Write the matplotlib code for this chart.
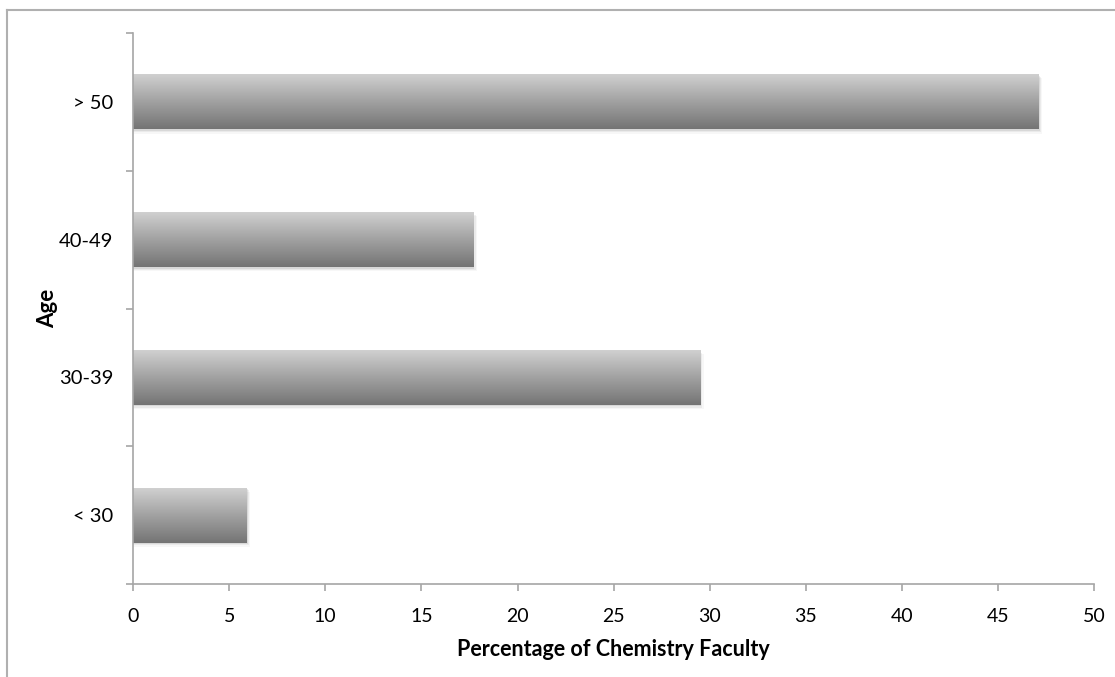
import numpy as np
import matplotlib
matplotlib.use("Agg")
import matplotlib.pyplot as plt
from matplotlib.patches import Rectangle
from matplotlib.lines import Line2D
from matplotlib.colors import LinearSegmentedColormap

plt.rcParams['font.family'] = ['Lato', 'DejaVu Sans']

age_groups = ["< 30", "30-39", "40-49", "> 50"]
percentages = [5.9, 29.5, 17.7, 47.1]
x_ticks = [0, 5, 10, 15, 20, 25, 30, 35, 40, 45, 50]

AXIS_GRAY = "#a6a6a6"
BAR_HEIGHT = 0.4

fig = plt.figure(figsize=(11.15, 6.77), dpi=100)
fig.patch.set_facecolor("white")
ax = fig.add_axes([133 / 1115, 1 - 584 / 677, (1094.3 - 133) / 1115, (584 - 33) / 677])

# outer chart-area border (top and left edges)
fig.add_artist(Line2D([7 / 1115, 7 / 1115], [0, 1 - 10 / 677], color="#b0b0b0", lw=1.5,
                      transform=fig.transFigure))
fig.add_artist(Line2D([7 / 1115, 1], [1 - 10 / 677, 1 - 10 / 677], color="#b0b0b0", lw=1.5,
                      transform=fig.transFigure))

grad_cmap = LinearSegmentedColormap.from_list("bar_grad", ["#747474", "#a2a2a2", "#d2d2d2"])
grad = np.linspace(0, 1, 256).reshape(-1, 1)

for i, val in enumerate(percentages):
    y0 = i - BAR_HEIGHT / 2
    # soft drop shadow, mostly below the bar
    for k, a in enumerate([0.08, 0.05, 0.03]):
        off = 0.01 * (k + 1)
        ax.add_patch(Rectangle((0, y0 - off), val + 0.06 * (k + 1), BAR_HEIGHT,
                               facecolor="black", alpha=a, edgecolor="none", zorder=1))
    rect = Rectangle((0, y0), val, BAR_HEIGHT, facecolor="none", edgecolor="none", zorder=2)
    ax.add_patch(rect)
    im = ax.imshow(grad, cmap=grad_cmap, aspect="auto", origin="lower",
                   extent=[0, val, y0, y0 + BAR_HEIGHT], zorder=2, interpolation="bicubic")
    im.set_clip_path(rect)

ax.set_xlim(0, 50)
ax.set_ylim(-0.5, 3.5)

for s in ["top", "right"]:
    ax.spines[s].set_visible(False)
for s in ["left", "bottom"]:
    ax.spines[s].set_color(AXIS_GRAY)
    ax.spines[s].set_linewidth(1.2)

ax.set_xticks(x_ticks)
ax.set_xticklabels([str(t) for t in x_ticks])
ax.set_yticks(np.arange(-0.5, 4.0, 1.0))
ax.set_yticklabels([])
ax.set_yticks(range(len(age_groups)), minor=True)
ax.set_yticklabels(age_groups, minor=True)

ax.tick_params(axis="x", which="major", direction="out", length=5, width=1.2,
               color=AXIS_GRAY, labelsize=14, pad=12, labelcolor="black")
ax.tick_params(axis="y", which="major", direction="out", length=5, width=1.2, color=AXIS_GRAY)
ax.tick_params(axis="y", which="minor", length=0, labelsize=14.5, pad=14, labelcolor="black")

ax.set_xlabel("Percentage of Chemistry Faculty", fontsize=15.5, fontweight="bold", labelpad=10)
ax.set_ylabel("Age", fontsize=16, fontweight="bold")
ax.yaxis.set_label_coords(-0.078, 0.5)

fig.savefig("out.png", dpi=100, facecolor="white")
